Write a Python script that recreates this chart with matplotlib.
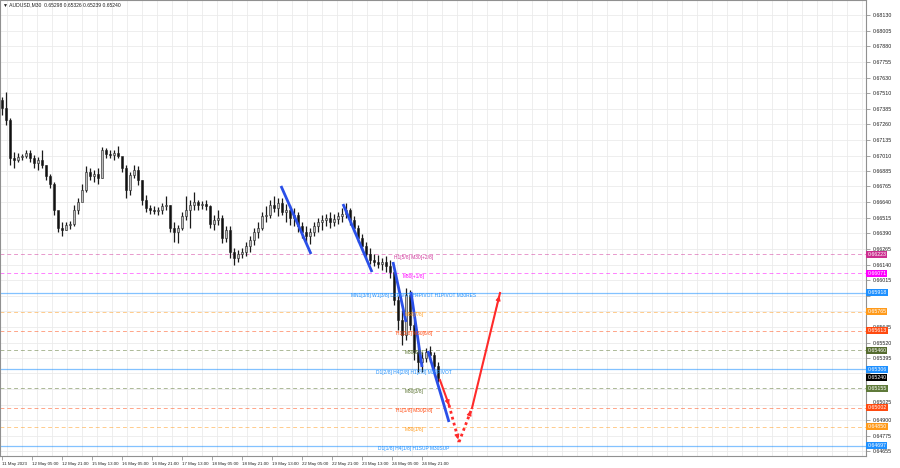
import matplotlib
matplotlib.use('Agg')
import matplotlib.pyplot as plt
import numpy as np
from matplotlib.patches import Rectangle

plt.rcParams['font.family'] = ['Liberation Sans', 'DejaVu Sans']

# ---------------- data ----------------
title_text = "AUDUSD,M30  0.65298 0.65326 0.65239 0.65240"

first_open = 0.67453
high = [0.67477, 0.67517, 0.67310, 0.67039, 0.67031, 0.67023, 0.67055, 0.67055, 0.67015, 0.66999,
        0.67055, 0.66935, 0.66863, 0.66800, 0.66536, 0.66481, 0.66481, 0.66489, 0.66616, 0.66672,
        0.66784, 0.66927, 0.66911, 0.66895, 0.66911, 0.67078, 0.67070, 0.67055, 0.67055, 0.67086,
        0.66991, 0.66935, 0.66879, 0.66935, 0.66927, 0.66815, 0.66696, 0.66616, 0.66608, 0.66600,
        0.66632, 0.66688, 0.66616, 0.66481, 0.66457, 0.66560, 0.66688, 0.66656, 0.66720, 0.66656,
        0.66648, 0.66656, 0.66616, 0.66536, 0.66576, 0.66536, 0.66449, 0.66449, 0.66273, 0.66258,
        0.66273, 0.66321, 0.66369, 0.66433, 0.66481, 0.66560, 0.66608, 0.66656, 0.66688, 0.66672,
        0.66672, 0.66624, 0.66616, 0.66592, 0.66560, 0.66481, 0.66449, 0.66433, 0.66481, 0.66513,
        0.66536, 0.66544, 0.66560, 0.66544, 0.66560, 0.66592, 0.66632, 0.66592, 0.66528, 0.66457,
        0.66385, 0.66321, 0.66273, 0.66226, 0.66218, 0.66194, 0.66210, 0.66178, 0.66098, 0.65891,
        0.65779, 0.65955, 0.65939, 0.65700, 0.65500, 0.65445, 0.65476, 0.65492, 0.65445, 0.65365]
low = [0.67334, 0.67254, 0.66935, 0.66911, 0.66959, 0.66975, 0.66991, 0.66959, 0.66911, 0.66895,
       0.66911, 0.66815, 0.66752, 0.66536, 0.66401, 0.66369, 0.66417, 0.66425, 0.66449, 0.66544,
       0.66656, 0.66720, 0.66815, 0.66800, 0.66784, 0.66831, 0.66991, 0.66991, 0.66975, 0.66991,
       0.66879, 0.66672, 0.66696, 0.66831, 0.66776, 0.66616, 0.66560, 0.66544, 0.66544, 0.66536,
       0.66544, 0.66576, 0.66401, 0.66321, 0.66313, 0.66417, 0.66497, 0.66433, 0.66576, 0.66576,
       0.66584, 0.66576, 0.66433, 0.66417, 0.66457, 0.66313, 0.66321, 0.66194, 0.66138, 0.66162,
       0.66194, 0.66210, 0.66242, 0.66297, 0.66353, 0.66417, 0.66481, 0.66513, 0.66560, 0.66528,
       0.66536, 0.66481, 0.66457, 0.66449, 0.66401, 0.66353, 0.66321, 0.66305, 0.66369, 0.66401,
       0.66417, 0.66449, 0.66433, 0.66449, 0.66465, 0.66481, 0.66513, 0.66457, 0.66401, 0.66321,
       0.66258, 0.66194, 0.66146, 0.66130, 0.66114, 0.66098, 0.66082, 0.66034, 0.65819, 0.65620,
       0.65500, 0.65540, 0.65620, 0.65381, 0.65285, 0.65285, 0.65365, 0.65365, 0.65301, 0.65205]
close = [0.67389, 0.67294, 0.66991, 0.66975, 0.66999, 0.67007, 0.67031, 0.66991, 0.66951, 0.66975,
         0.66935, 0.66847, 0.66784, 0.66576, 0.66433, 0.66417, 0.66457, 0.66465, 0.66576, 0.66640,
         0.66736, 0.66879, 0.66847, 0.66863, 0.66831, 0.67055, 0.67023, 0.67015, 0.67031, 0.67007,
         0.66911, 0.66736, 0.66855, 0.66895, 0.66815, 0.66656, 0.66592, 0.66576, 0.66568, 0.66576,
         0.66608, 0.66616, 0.66433, 0.66401, 0.66433, 0.66528, 0.66576, 0.66616, 0.66640, 0.66616,
         0.66624, 0.66608, 0.66465, 0.66497, 0.66513, 0.66353, 0.66417, 0.66242, 0.66194, 0.66226,
         0.66242, 0.66289, 0.66337, 0.66401, 0.66433, 0.66528, 0.66536, 0.66616, 0.66592, 0.66632,
         0.66560, 0.66576, 0.66513, 0.66536, 0.66449, 0.66401, 0.66369, 0.66401, 0.66449, 0.66481,
         0.66497, 0.66513, 0.66481, 0.66505, 0.66528, 0.66544, 0.66576, 0.66497, 0.66433, 0.66353,
         0.66289, 0.66226, 0.66178, 0.66162, 0.66146, 0.66162, 0.66130, 0.66082, 0.65859, 0.65700,
         0.65580, 0.65899, 0.65660, 0.65445, 0.65365, 0.65397, 0.65445, 0.65421, 0.65333, 0.65240]

time_labels = ["11 May 2023", "12 May 05:00", "12 May 21:00", "15 May 13:00", "16 May 05:00",
               "16 May 21:00", "17 May 13:00", "18 May 05:00", "18 May 21:00", "19 May 13:00",
               "22 May 05:00", "22 May 21:00", "23 May 13:00", "24 May 05:00", "24 May 21:00"]

grid_prices = [0.68130, 0.68005, 0.67880, 0.67755, 0.67630, 0.67510, 0.67385, 0.67260, 0.67135,
               0.67010, 0.66885, 0.66765, 0.66640, 0.66515, 0.66390, 0.66265, 0.66140, 0.66015,
               0.65895, 0.65770, 0.65645, 0.65520, 0.65395, 0.65275, 0.65150, 0.65025, 0.64900,
               0.64775, 0.64655]
hidden_ticks = [0.65895, 0.65770, 0.65275, 0.65150]

level_prices = [0.66223, 0.66071, 0.65918, 0.65765, 0.65613, 0.65460, 0.65306, 0.65155, 0.65002, 0.64850, 0.64697]
level_names = ["H1[5/8] M30[+2/8]", "M30[+1/8]", "MN1[3/8] W1[3/8] D1PIVOT H4PIVOT H1PIVOT M30RES",
               "M30[7/8]", "H1[3/8] M30[6/8]", "M30[5/8]", "D1[2/8] H4[2/8] H1[2/8] M30PIVOT",
               "M30[3/8]", "H1[1/8] M30[2/8]", "M30[1/8]", "D1[1/8] H4[1/8] H1SUP M30SUP"]
level_colors = ["#D0359A", "#FF00FF", "#1E90FF", "#FF9A1A", "#FF4A10", "#5A7330", "#1E90FF",
                "#5A7330", "#FF4A10", "#FF9A1A", "#1E90FF"]
level_solid = [False, False, True, False, False, False, True, False, False, False, True]

current_price = 0.65240

# trend lines (x in chart slots, price)
trend_x0 = [281, 343, 393, 411, 428]
trend_p0 = [0.66768, 0.66624, 0.66162, 0.65923, 0.65453]
trend_x1 = [311, 372, 406, 422, 449]
trend_p1 = [0.66226, 0.66082, 0.65684, 0.65325, 0.64887]

# projection path
proj_x = [440, 449, 459, 472, 500]
proj_p = [0.65221, 0.65022, 0.64727, 0.64998, 0.65915]
proj_dotted = [False, True, True, False]

# ---------------- figure ----------------
fig = plt.figure(figsize=(9, 4.68), dpi=100)
fig.patch.set_facecolor('white')
ax = fig.add_axes([0.0, 12 / 468, 866 / 900, 456 / 468])
ax.set_xlim(0, 866)
ax.set_ylim(0.64616, 0.68250)
ax.set_facecolor('white')

# grid
for gx in np.arange(7, 866, 15):
    ax.axvline(gx, color='#ebebeb', lw=0.6, zorder=0)
for gp in grid_prices:
    ax.axhline(gp, color='#ebebeb', lw=0.6, zorder=0)

# levels
for p, name, col, solid in zip(level_prices, level_names, level_colors, level_solid):
    if solid:
        ax.axhline(p, color=col, lw=0.9, alpha=0.55, zorder=1)
    else:
        ax.axhline(p, color=col, lw=0.7, alpha=0.5, ls=(0, (4, 3)), zorder=1)
    ax.annotate(name, xy=(414, p), xytext=(0, -2), textcoords='offset points',
                ha='center', va='center', fontsize=3.5, color=col, zorder=6)

# candles
n = len(close)
opens = [first_open] + close[:-1]
xc = np.arange(n) * 4 + 2
ax.vlines(xc, low, high, color='#1a1a1a', lw=0.9, zorder=3)
for k in range(n):
    o, c = opens[k], close[k]
    b = min(o, c)
    h = max(abs(c - o), 0.00002)
    face = '#bdbdbd' if c >= o else '#111111'
    ax.add_patch(Rectangle((xc[k] - 1.1, b), 2.2, h, fc=face, ec='#222222', lw=0.4, zorder=4))

# trend lines
for x0, p0, x1, p1 in zip(trend_x0, trend_p0, trend_x1, trend_p1):
    ax.plot([x0, x1], [p0, p1], color='#2A4FE8', lw=2.0, solid_capstyle='butt', zorder=5)

# projection
for i in range(len(proj_x) - 1):
    xs = [proj_x[i], proj_x[i + 1]]
    ps = [proj_p[i], proj_p[i + 1]]
    ls = (0, (1, 1.2)) if proj_dotted[i] else '-'
    lw = 2.0 if proj_dotted[i] else 1.5
    ax.plot(xs, ps, color='#FF2A2A', lw=lw, ls=ls, zorder=5)
    xm = xs[0] + 0.8 * (xs[1] - xs[0])
    pm = ps[0] + 0.8 * (ps[1] - ps[0])
    ax.annotate('', xy=(xs[1], ps[1]), xytext=(xm, pm),
                arrowprops=dict(arrowstyle='-|>', color='#FF2A2A', lw=0.8, mutation_scale=7),
                zorder=6)

# axes styling
ax.yaxis.tick_right()
ax.set_yticks(grid_prices)
ax.set_yticklabels(["" if p in hidden_ticks else f"{p:.5f}" for p in grid_prices])
ax.tick_params(axis='y', length=3, width=0.5, color='#808080', pad=2, labelsize=3.8, labelcolor='#202020')
for t in ax.get_yticklabels():
    if t.get_text() == "0.65025":
        t.set_va('bottom')
label_pos = 2 + 30 * np.arange(len(time_labels))
ax.set_xticks(label_pos)
ax.set_xticklabels(time_labels, ha='left')
ax.tick_params(axis='x', length=3, width=0.5, color='#808080', pad=1, labelsize=3.15, labelcolor='#202020')
for s in ax.spines.values():
    s.set_color('#909090')
    s.set_linewidth(0.8)

# price tags
ytr = ax.get_yaxis_transform()
tag_prices = level_prices + [current_price]
tag_colors = ["#CC2F8F", "#FF00FF", "#1E90FF", "#FF9A1A", "#FF4A10", "#556B2F", "#1E90FF",
              "#5F7A3A", "#FF4A10", "#FF9A1A", "#1E90FF", "#000000"]
for p, col in zip(tag_prices, tag_colors):
    ax.text(1.0015, p, f"{p:.5f}", transform=ytr, ha='left', va='center', fontsize=3.8,
            color='white', zorder=10, clip_on=False,
            bbox=dict(boxstyle='square,pad=0.2', fc=col, ec=col, lw=0))

# title
fig.text(3 / 900, 1 - 5 / 468, "\u25BC " + title_text, fontsize=3.6, ha='left', va='center',
         color='#202020')

fig.savefig('out.png', dpi=100, facecolor='white')
